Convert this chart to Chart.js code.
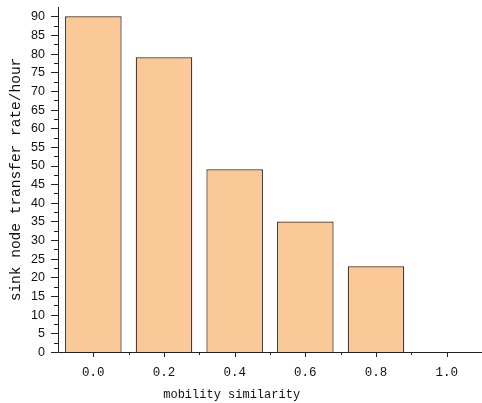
<!DOCTYPE html>
<html>
<head>
<meta charset="utf-8">
<script src="https://cdn.jsdelivr.net/npm/chart.js@4.4.0/dist/chart.umd.min.js"></script>
<style>
  html, body { margin: 0; padding: 0; background: #fff; }
  canvas { display: block; }
</style>
</head>
<body>
<canvas id="rateChart" width="482" height="403"></canvas>
<script>
// mobility similarity categories and sink node transfer rate per hour
const similarity = ["0.0", "0.2", "0.4", "0.6", "0.8", "1.0"];
const transferRate = [90, 79, 49, 35, 23, 0];

const yMin = 0;
const yMax = 92.5;
const yStep = 5;

const monoFont = "'Liberation Mono', 'DejaVu Sans Mono', monospace";

// draws axis lines, major/minor tick marks and the y tick labels (Origin-style)
const axisTicks = {
  id: "axisTicks",
  afterDraw(chart) {
    const ctx = chart.ctx;
    const x = chart.scales.x;
    const y = chart.scales.y;
    const area = chart.chartArea;
    ctx.save();
    ctx.strokeStyle = "#222";
    ctx.lineWidth = 1;
    ctx.beginPath();
    // axis lines
    ctx.moveTo(area.left + 0.5, area.top);
    ctx.lineTo(area.left + 0.5, area.bottom + 0.5);
    ctx.lineTo(area.right, area.bottom + 0.5);
    // y ticks: major on labels, minor halfway
    for (let v = yMin; v <= 90; v += yStep / 2) {
      const py = Math.round(y.getPixelForValue(v)) + 0.5;
      const len = v % yStep === 0 ? 7 : 4;
      ctx.moveTo(area.left - len, py);
      ctx.lineTo(area.left, py);
    }
    // x ticks: major at category centres, minor at boundaries
    for (let i = 0; i < similarity.length; i++) {
      const px = Math.round(x.getPixelForValue(i)) + 0.5;
      ctx.moveTo(px, area.bottom);
      ctx.lineTo(px, area.bottom + 5);
      if (i > 0) {
        const mx = Math.round(x.getPixelForValue(i - 0.5)) + 0.5;
        ctx.moveTo(mx, area.bottom);
        ctx.lineTo(mx, area.bottom + 3);
      }
    }
    ctx.stroke();

    ctx.fillStyle = "#111";
    // y tick labels
    ctx.font = "12.5px 'Liberation Sans', Arial, sans-serif";
    ctx.textAlign = "right";
    ctx.textBaseline = "middle";
    y.ticks.forEach((t) => {
      ctx.fillText(String(t.value), area.left - 13, y.getPixelForValue(t.value) + 0.5);
    });

    // x title
    ctx.font = "12px " + monoFont;
    ctx.textAlign = "center";
    ctx.fillText("mobility similarity", x.getPixelForValue(2) - 3, 395);
    ctx.restore();
  }
};

const ctx = document.getElementById("rateChart").getContext("2d");
const chart = new Chart(ctx, {
  type: "bar",
  data: {
    labels: similarity,
    datasets: [
      {
        data: transferRate,
        backgroundColor: "#fbc998",
        borderColor: "#2e2424",
        borderWidth: 1.2,
        barPercentage: 0.8,
        categoryPercentage: 1.0,
      },
    ],
  },
  options: {
    responsive: false,
    animation: false,
    layout: { padding: { top: 7, right: 0, left: 0, bottom: 0 } },
    plugins: {
      legend: { display: false },
      tooltip: { enabled: false },
    },
    scales: {
      x: {
        offset: true,
        grid: { display: false },
        border: { display: false },
        ticks: {
          color: "#111",
          padding: 5,
          maxRotation: 0,
          font: { family: monoFont, size: 12.5 },
        },
        afterFit(scale) { scale.height = 51; },
      },
      y: {
        min: yMin,
        max: yMax,
        grid: { display: false },
        border: { display: false },
        ticks: {
          display: false,
          stepSize: yStep,
          includeBounds: false,
        },
        title: {
          display: true,
          text: "sink node transfer rate/hour",
          color: "#111",
          padding: { top: 7, bottom: 0 },
          font: { family: monoFont, size: 14.5 },
        },
        afterFit(scale) { scale.width = 58; },
      },
    },
  },
  plugins: [axisTicks],
});
</script>
</body>
</html>
